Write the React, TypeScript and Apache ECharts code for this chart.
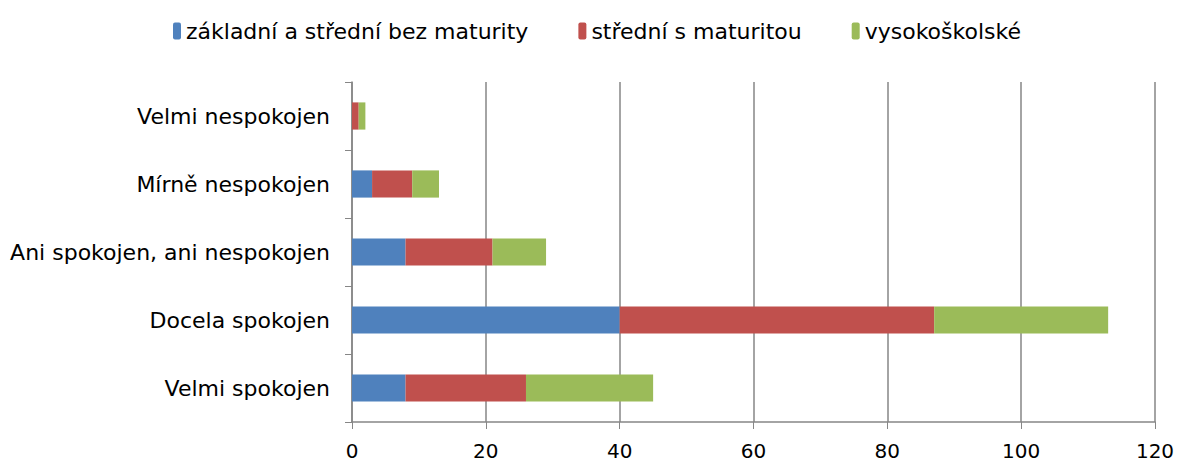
import React, { useEffect, useRef } from "react";
import * as echarts from "echarts";

const categories = [
  "Velmi spokojen",
  "Docela spokojen",
  "Ani spokojen, ani nespokojen",
  "Mírně nespokojen",
  "Velmi nespokojen",
];
const seriesNames = ["základní a střední bez maturity", "střední s maturitou", "vysokoškolské"];
const zakladni = [8, 40, 8, 3, 0];
const stredni = [18, 47, 13, 6, 1];
const vysoko = [19, 26, 8, 4, 1];
const colors = ["#4F81BD", "#C0504D", "#9BBB59"];

export default function App() {
  const ref = useRef<HTMLDivElement>(null);
  useEffect(() => {
    if (!ref.current) return;
    const chart = echarts.init(ref.current, null, { renderer: "svg" });
    const font = "DejaVu Sans";
    const data = [zakladni, stredni, vysoko];
    chart.setOption({
      animation: false,
      textStyle: { fontFamily: font },
      legend: {
        top: 15,
        left: 168,
        itemWidth: 8,
        itemHeight: 17,
        itemGap: 50,
        textStyle: { fontFamily: font, fontSize: 22, color: "#000" },
        data: seriesNames,
      },
      grid: { left: 352, right: 25, top: 82, bottom: 48, containLabel: false },
      xAxis: {
        type: "value",
        min: 0,
        max: 120,
        interval: 20,
        axisLine: { show: true, lineStyle: { color: "#868686", width: 1.5 } },
        axisTick: { show: true, length: 7, lineStyle: { color: "#868686" } },
        axisLabel: { fontFamily: font, fontSize: 20, color: "#000", margin: 19 },
        splitLine: { show: true, lineStyle: { color: "#868686", width: 1.5 } },
      },
      yAxis: {
        type: "category",
        data: categories,
        axisLine: { show: true, lineStyle: { color: "#868686", width: 1.5 } },
        axisTick: { show: true, length: 7, lineStyle: { color: "#868686" } },
        axisLabel: { fontFamily: font, fontSize: 22, color: "#000", margin: 22 },
      },
      series: seriesNames.map((name, i) => ({
        name,
        type: "bar",
        stack: "total",
        barCategoryGap: "60%",
        itemStyle: { color: colors[i] },
        data: data[i],
      })),
    });
    return () => chart.dispose();
  }, []);
  return <div ref={ref} style={{ width: 1180, height: 470, position: "absolute", left: 0, top: 0 }} />;
}
